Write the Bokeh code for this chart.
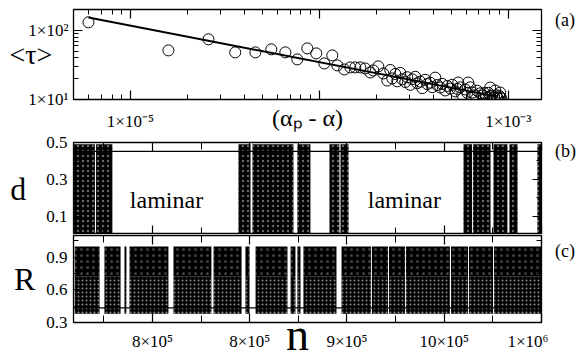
from bokeh.plotting import figure
from bokeh.models import Range1d, FixedTicker, LogAxis, LinearAxis, Label, Span, Div
from bokeh.layouts import column, row
from bokeh.embed import file_html
from bokeh.resources import INLINE

FONT = "Liberation Serif"

# ---------------- panel (a): <tau> vs (alpha_p - alpha) ----------------
alpha = [6.0e-6, 1.59e-5, 2.59e-5, 3.59e-5, 4.59e-5, 5.57e-5, 6.61e-5, 7.65e-5, 8.64e-5, 9.64e-5,
         1.063e-4, 1.172e-4, 1.245e-4, 1.356e-4, 1.459e-4, 1.55e-4, 1.648e-4, 1.75e-4, 1.862e-4, 1.931e-4,
         2.052e-4, 2.181e-4, 2.29e-4,
         2.375e-4, 2.433e-4, 2.525e-4, 2.587e-4, 2.683e-4, 2.750e-4, 2.851e-4, 2.921e-4, 3.030e-4, 3.105e-4,
         3.220e-4, 3.300e-4, 3.423e-4, 3.508e-4, 3.638e-4, 3.728e-4, 3.867e-4, 3.962e-4, 4.110e-4, 4.211e-4,
         4.368e-4, 4.476e-4, 4.642e-4, 4.756e-4, 4.933e-4, 5.055e-4, 5.243e-4, 5.373e-4, 5.572e-4, 5.710e-4,
         5.923e-4, 6.069e-4, 6.295e-4, 6.450e-4, 6.691e-4, 6.855e-4, 7.111e-4, 7.286e-4, 7.465e-4, 7.650e-4,
         7.838e-4, 8.031e-4, 8.229e-4, 8.432e-4, 8.640e-4, 8.746e-4, 8.853e-4, 8.962e-4, 9.072e-4, 9.183e-4,
         6.14e-4, 5.44e-4, 8.03e-4, 8.53e-4, 9.07e-4]
tau = [130.6, 51.3, 74.1, 48.0, 48.0, 53.1, 48.0, 38.0, 54.8, 46.4,
       33.2, 43.4, 31.1, 27.2, 29.1, 29.1, 29.1, 28.1, 24.6, 26.3,
       30.1, 23.8, 18.8,
       26.7, 20.2, 23.4, 18.3, 24.2, 19.6, 17.9, 21.0, 16.3, 19.6,
       21.3, 17.2, 18.1, 14.6, 19.3, 16.7, 17.5, 15.1, 20.7, 16.2,
       14.9, 16.8, 13.5, 15.7, 14.4, 16.3, 13.1, 14.2, 15.0, 11.7,
       14.0, 12.5, 15.0, 12.6, 11.5, 13.4, 12.3, 11.4, 12.4, 10.7,
       12.5, 11.2, 11.4, 10.5, 11.5, 10.7, 10.3, 11.3, 10.8, 10.4,
       17.6, 17.6, 14.9, 13.5, 12.6]
fit_alpha = [6.0e-6, 8.75e-4]
fit_tau = [153.0, 11.0]

a_xticks = [1e-5, 1e-4, 1e-3]
a_xminor = [6e-6, 7e-6, 8e-6, 9e-6] + [k * 1e-5 for k in range(2, 10)] + [k * 1e-4 for k in range(2, 10)]
a_xlabels = {1e-5: "1×10⁻⁵", 1e-4: " ", 1e-3: "1×10⁻³"}
a_yticks = [10, 100]
a_yminor = [20, 30, 40, 50, 60, 70, 80, 90, 200]
a_ylabels = {10: "1×10¹", 100: "1×10²"}

# ---------------- panels (b), (c): time series vs n ----------------
# turbulent bursts of d (start, end of each dark band)
b_start = [7.594e5, 7.710e5, 8.442e5, 8.514e5, 8.745e5, 8.910e5, 8.967e5, 9.599e5, 9.648e5, 9.753e5, 9.835e5, 9.979e5]
b_end   = [7.704e5, 7.794e5, 8.504e5, 8.725e5, 8.812e5, 8.961e5, 9.008e5, 9.643e5, 9.738e5, 9.825e5, 9.877e5, 1.0e6]
d_laminar = 0.452
d_low, d_high = 0.0, 0.49
# turbulent bursts of R
c_start = [7.600e5, 7.753e5, 7.856e5, 7.882e5, 8.108e5, 8.314e5, 8.478e5, 8.530e5, 8.710e5, 8.745e5, 8.776e5,
           8.972e5, 9.128e5, 9.216e5, 9.303e5, 9.535e5, 9.627e5, 9.756e5]
c_end   = [7.728e5, 7.836e5, 7.866e5, 8.082e5, 8.303e5, 8.458e5, 8.499e5, 8.694e5, 8.735e5, 8.761e5, 8.946e5,
           9.123e5, 9.211e5, 9.298e5, 9.529e5, 9.622e5, 9.751e5, 1.0e6]
R_laminar = 0.435
R_low, R_mid, R_high = 0.38, 0.72, 1.0

n_ticks = [8.0e5, 8.5e5, 9.0e5, 9.5e5, 1.0e6]
n_minor = [7.75e5, 8.25e5, 8.75e5, 9.25e5, 9.75e5]
n_labels = {8.0e5: "8×10⁵", 8.5e5: "8×10⁵", 9.0e5: "9×10⁵", 9.5e5: "10×10⁵", 1.0e6: "1×10⁶"}
d_ticks = [0.1, 0.3, 0.5]
d_minor = [0.2, 0.4]
R_ticks = [0.3, 0.6, 0.9]
R_minor = [0.45, 0.75, 1.05]

N_RANGE = (7.594e5, 1.0e6)
FIG_W = 548


def style_axis(ax, labels, standoff=5, tick_in=9, minor_in=5):
    ax.axis_line_color = None
    ax.major_tick_line_color = "black"
    ax.minor_tick_line_color = "black"
    ax.major_tick_in = tick_in
    ax.major_tick_out = 0
    ax.minor_tick_in = minor_in
    ax.minor_tick_out = 0
    ax.major_tick_line_width = 1.2
    ax.minor_tick_line_width = 1
    if labels:
        ax.major_label_text_font = FONT
        ax.major_label_text_font_size = "17px"
        ax.major_label_text_color = "black"
        ax.major_label_standoff = standoff
    else:
        ax.major_label_text_font_size = "1px"
        ax.major_label_text_alpha = 0
        ax.major_label_standoff = 0
    return ax


def axis_title(ax, text, size, standoff, horizontal=False):
    ax.axis_label = text
    ax.axis_label_text_font = FONT
    ax.axis_label_text_font_size = size
    ax.axis_label_text_font_style = "normal"
    ax.axis_label_text_color = "black"
    ax.axis_label_standoff = standoff
    if horizontal:
        ax.axis_label_orientation = "horizontal"


def base_fig(h, top, bottom, **kw):
    p = figure(width=FIG_W, height=h, output_backend="svg", toolbar_location=None,
               min_border_left=73, min_border_right=7, min_border_top=top, min_border_bottom=bottom,
               x_axis_location=None, y_axis_location=None, **kw)
    p.grid.visible = False
    p.outline_line_color = "black"
    p.outline_line_width = 1.3
    p.background_fill_color = "white"
    p.border_fill_color = "white"
    return p


def tag_html(text, left, top, size, line_h=None):
    lh = line_h if line_h is not None else size
    return (f'<div style="position:absolute; left:{left}px; top:{top}px; font-family:\'{FONT}\'; '
            f'font-size:{size}px; line-height:{lh}px; color:black; white-space:nowrap;">{text}</div>')


def side_div(html, h):
    return Div(text=html, width=580 - FIG_W, height=h, margin=(0, 0, 0, 0),
               styles={"overflow": "visible", "position": "relative", "z-index": "5"})


def lab(p, text, x, y, size, align="center", base="alphabetic"):
    p.add_layout(Label(x=x, y=y, text=text, text_font=FONT, text_font_size=size,
                       text_align=align, text_baseline=base, text_color="black"))


H_A, H_B, H_C = 133, 101, 123

# ---- (a)
pa = base_fig(H_A, 9, 34, x_axis_type="log", y_axis_type="log",
              x_range=Range1d(5e-6, 1.5e-3), y_range=Range1d(10, 200))
ax = style_axis(LogAxis(ticker=FixedTicker(ticks=a_xticks, minor_ticks=a_xminor)), True, 12)
ax.major_label_overrides = a_xlabels
axis_title(ax, "(αₚ - α)", "24px", -29)
pa.add_layout(ax, "below")
pa.add_layout(style_axis(LogAxis(ticker=FixedTicker(ticks=a_xticks, minor_ticks=a_xminor)), False), "above")
ay = style_axis(LogAxis(ticker=FixedTicker(ticks=a_yticks, minor_ticks=a_yminor)), True, 5)
ay.major_label_overrides = a_ylabels
axis_title(ay, "<τ>", "28px", -27, horizontal=True)
pa.add_layout(ay, "left")
pa.add_layout(style_axis(LogAxis(ticker=FixedTicker(ticks=a_yticks, minor_ticks=a_yminor)), False), "right")
pa.line(fit_alpha, fit_tau, line_color="black", line_width=2)
pa.scatter(alpha, tau, marker="circle", size=11, fill_color=None, line_color="black", line_width=1)

# ---- (b)
pb = base_fig(H_B, 9, 0, x_range=Range1d(*N_RANGE), y_range=Range1d(0.0, 0.5))
for loc in ("below", "above"):
    pb.add_layout(style_axis(LinearAxis(ticker=FixedTicker(ticks=n_ticks, minor_ticks=n_minor)), False,
                             tick_in=9, minor_in=7), loc)
ayb = style_axis(LinearAxis(ticker=FixedTicker(ticks=d_ticks, minor_ticks=d_minor)), True, 6)
axis_title(ayb, "d", "32px", 17, horizontal=True)
pb.add_layout(ayb, "left")
pb.add_layout(style_axis(LinearAxis(ticker=FixedTicker(ticks=d_ticks, minor_ticks=d_minor)), False), "right")
pb.add_layout(Span(location=d_laminar, dimension="width", line_color="black", line_width=1.3))
pb.quad(left=b_start, right=b_end, bottom=d_low, top=d_high, fill_color="black", line_color=None,
        hatch_pattern="dot", hatch_color="white", hatch_scale=5, hatch_weight=1, hatch_alpha=0.4)
lab(pb, "laminar", 8.072e5, 0.185, "24px")
lab(pb, "laminar", 9.295e5, 0.185, "24px")

# ---- (c)
pc = base_fig(H_C, 1, 35, x_range=Range1d(*N_RANGE), y_range=Range1d(0.3, 1.1))
axn = style_axis(LinearAxis(ticker=FixedTicker(ticks=n_ticks, minor_ticks=n_minor)), True, 9,
                 tick_in=9, minor_in=7)
axn.major_label_overrides = n_labels
pc.add_layout(axn, "below")
pc.add_layout(style_axis(LinearAxis(ticker=FixedTicker(ticks=n_ticks, minor_ticks=n_minor)), False,
                         tick_in=9, minor_in=7), "above")
ayc = style_axis(LinearAxis(ticker=FixedTicker(ticks=R_ticks, minor_ticks=R_minor)), True, 6)
axis_title(ayc, "R", "32px", 8, horizontal=True)
pc.add_layout(ayc, "left")
pc.add_layout(style_axis(LinearAxis(ticker=FixedTicker(ticks=R_ticks, minor_ticks=R_minor)), False), "right")
pc.add_layout(Span(location=R_laminar, dimension="width", line_color="black", line_width=1.3))
pc.quad(left=c_start, right=c_end, bottom=R_low, top=R_mid, fill_color="black", line_color=None,
        hatch_pattern="dot", hatch_color="white", hatch_scale=4, hatch_weight=1, hatch_alpha=0.55)
pc.quad(left=c_start, right=c_end, bottom=R_mid, top=R_high, fill_color="black", line_color=None,
        hatch_pattern="dot", hatch_color="white", hatch_scale=6, hatch_weight=1, hatch_alpha=0.25)

layout = column(row(pa, side_div(tag_html("(a)", 7, 11, 18), H_A), spacing=0),
                row(pb, side_div(tag_html("(b)", 7, 9, 18), H_B), spacing=0),
                row(pc, side_div(tag_html("(c)", 7, 8, 18) + tag_html("n", 286 - FIG_W, 82, 46, 38), H_C),
                    spacing=0),
                spacing=0)
open("out.html", "w").write(file_html(layout, INLINE))
